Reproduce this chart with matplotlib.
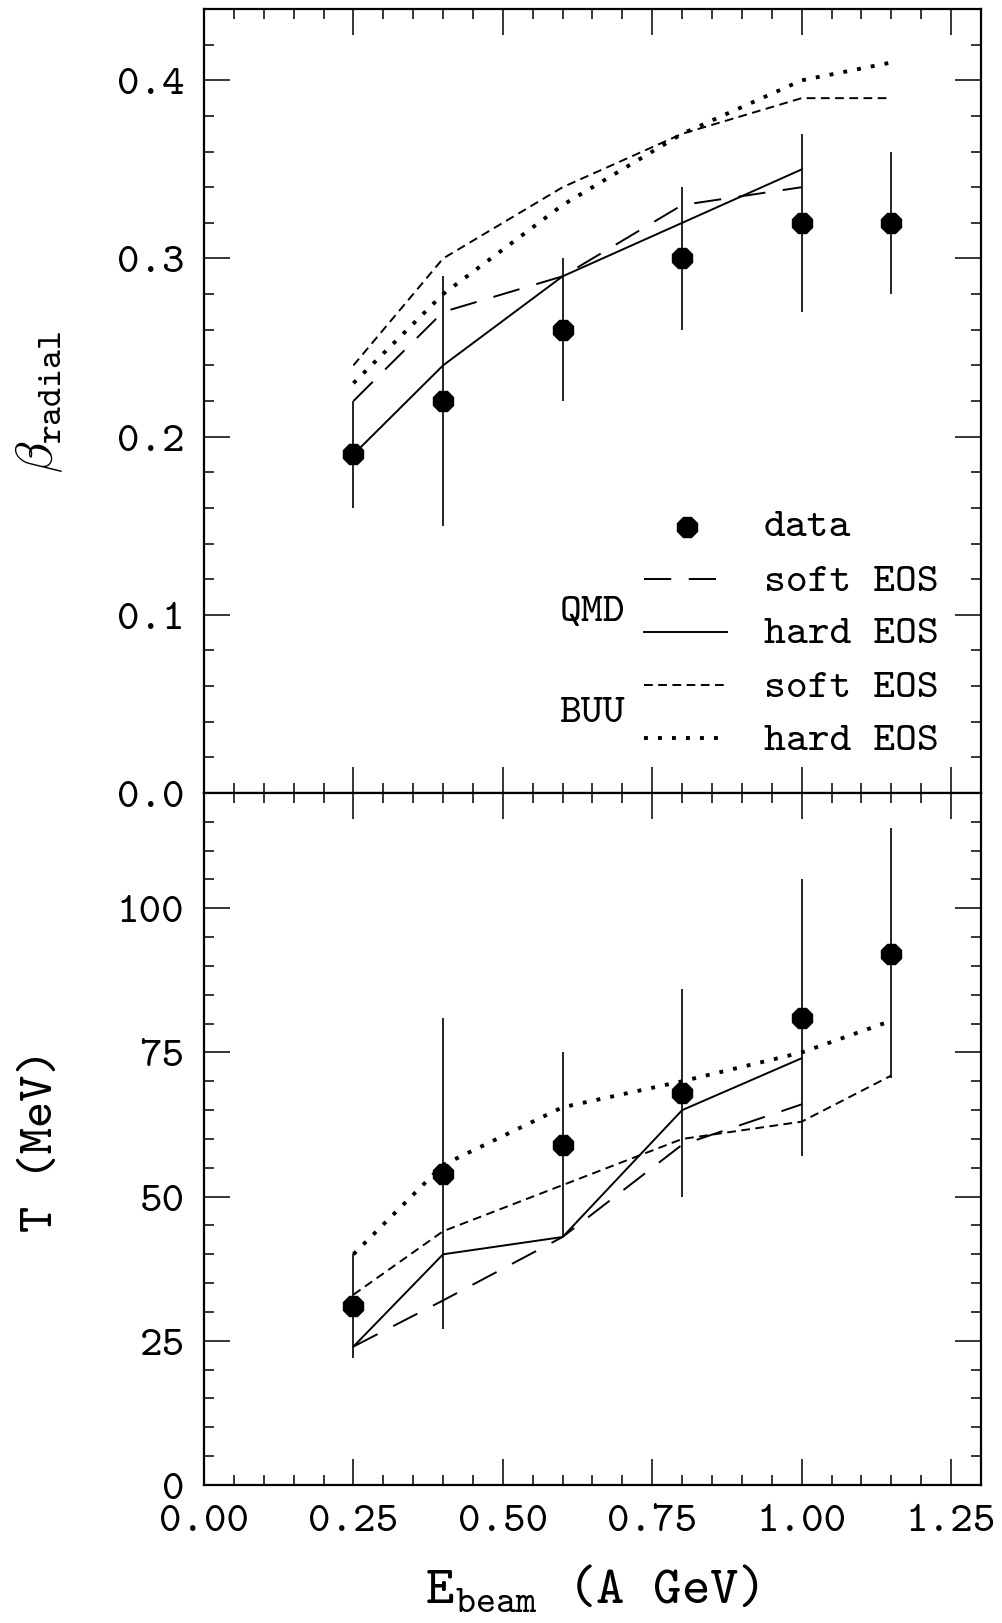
import matplotlib
matplotlib.use("Agg")
import matplotlib.pyplot as plt
from matplotlib.ticker import MultipleLocator, FormatStrFormatter
from matplotlib.lines import Line2D

# ---------------- data ----------------
x_data = [0.25, 0.40, 0.60, 0.80, 1.00, 1.15]
beta_data = [0.19, 0.22, 0.26, 0.30, 0.32, 0.32]
beta_lo = [0.16, 0.15, 0.22, 0.26, 0.27, 0.28]
beta_hi = [0.22, 0.29, 0.30, 0.34, 0.37, 0.36]
T_data = [31, 54, 59, 68, 81, 92]
T_lo = [22, 27, 43, 50, 57, 70.5]
T_hi = [40, 81, 75, 86, 105, 114]

x_qmd = [0.25, 0.40, 0.60, 0.80, 1.00]
beta_qmd_soft = [0.22, 0.27, 0.29, 0.33, 0.34]
beta_qmd_hard = [0.19, 0.24, 0.29, 0.32, 0.35]
T_qmd_soft = [24, 32, 43, 59, 66]
T_qmd_hard = [24, 40, 43, 65, 74]

x_buu = [0.25, 0.40, 0.60, 0.80, 1.00, 1.15]
beta_buu_soft = [0.24, 0.30, 0.34, 0.37, 0.39, 0.39]
beta_buu_hard = [0.23, 0.28, 0.33, 0.37, 0.40, 0.41]
T_buu_soft = [33, 44, 52, 60, 63, 71]
T_buu_hard = [40, 55.5, 65.5, 70, 75, 80.5]

legend_labels = ["data", "soft EOS", "hard EOS", "soft EOS", "hard EOS"]
group_labels = ["QMD", "BUU"]

# ---------------- style ----------------
plt.rcParams["font.family"] = ["cmtt10", "DejaVu Sans"]
plt.rcParams["mathtext.fontset"] = "cm"
plt.rcParams["axes.unicode_minus"] = False
plt.rcParams["axes.formatter.use_mathtext"] = False

LW = 1.4
sty_qmd_soft = dict(color="black", lw=LW, linestyle=(0, (14, 9)))
sty_qmd_hard = dict(color="black", lw=LW, linestyle="-")
sty_buu_soft = dict(color="black", lw=LW, linestyle=(0, (4.5, 2.8)))
sty_buu_hard = dict(color="black", lw=2.8, linestyle=(0, (1.0, 2.6)))

fig = plt.figure(figsize=(10.02, 16.24), dpi=100)
left, right = 0.2036, 0.9790
bot, mid, top = 0.0850, 0.5111, 0.9938
ax1 = fig.add_axes([left, mid, right - left, top - mid])
ax2 = fig.add_axes([left, bot, right - left, mid - bot], sharex=ax1)

def draw(ax, yd, ylo, yhi, qs, qh, bs, bh):
    ax.plot(x_qmd, qs, **sty_qmd_soft)
    ax.plot(x_qmd, qh, **sty_qmd_hard)
    ax.plot(x_buu, bs, **sty_buu_soft)
    ax.plot(x_buu, bh, **sty_buu_hard)
    err = [[y - l for y, l in zip(yd, ylo)], [h - y for y, h in zip(yd, yhi)]]
    ax.errorbar(x_data, yd, yerr=err, fmt="8", color="black", ms=16,
                elinewidth=1.2, capsize=0, zorder=5)

draw(ax1, beta_data, beta_lo, beta_hi, beta_qmd_soft, beta_qmd_hard,
     beta_buu_soft, beta_buu_hard)
draw(ax2, T_data, T_lo, T_hi, T_qmd_soft, T_qmd_hard, T_buu_soft, T_buu_hard)

ax1.set_xlim(0.0, 1.30)
ax1.set_ylim(0.0, 0.44)
ax2.set_ylim(0, 120)

for ax in (ax1, ax2):
    for s in ax.spines.values():
        s.set_linewidth(1.6)
    ax.xaxis.set_major_locator(MultipleLocator(0.25))
    ax.xaxis.set_minor_locator(MultipleLocator(0.05))
    ax.tick_params(which="both", direction="in", top=True, right=True,
                   width=1.1, labelsize=31, pad=14)
    ax.tick_params(which="major", length=19)
    ax.tick_params(which="minor", length=7)

ax1.yaxis.set_major_locator(MultipleLocator(0.1))
ax1.yaxis.set_minor_locator(MultipleLocator(0.02))
ax1.yaxis.set_major_formatter(FormatStrFormatter("%.1f"))
ax1.tick_params(labelbottom=False)

ax2.yaxis.set_major_locator(MultipleLocator(25))
ax2.yaxis.set_minor_locator(MultipleLocator(5))
ax2.yaxis.set_major_formatter(FormatStrFormatter("%d"))
ax2.xaxis.set_major_formatter(FormatStrFormatter("%.2f"))

ax1.set_ylabel(r"$\beta_{\mathtt{radial}}$", fontsize=37)
ax2.set_ylabel("T (MeV)", fontsize=36)
ax2.set_xlabel(r"$\mathtt{E}_{\mathtt{beam}}$ (A GeV)", fontsize=39)
ax1.yaxis.set_label_coords(-0.178, 0.5)
ax2.yaxis.set_label_coords(-0.181, 0.5)
ax2.xaxis.set_label_coords(0.5, -0.112)

# ---------------- legend (manual) ----------------
tx = 0.7207
hx0, hx1 = 0.5663, 0.673
text_y = [0.3397, 0.2695, 0.2031, 0.1341, 0.0664]
line_y = [0.2733, 0.2056, 0.1379, 0.0702]
styles = [sty_qmd_soft, sty_qmd_hard, sty_buu_soft, sty_buu_hard]
ax1.add_line(Line2D([0.6216], [text_y[0]], marker="8", ms=16, color="black",
                    linestyle="none", transform=ax1.transAxes))
for yy, st in zip(line_y, styles):
    ax1.add_line(Line2D([hx0, hx1], [yy, yy], transform=ax1.transAxes, **st))
for lab, yy in zip(legend_labels, text_y):
    ax1.text(tx, yy, lab, transform=ax1.transAxes, fontsize=30,
             ha="left", va="center")
ax1.text(0.4994, 0.2312, group_labels[0], transform=ax1.transAxes,
         fontsize=30, ha="center", va="center")
ax1.text(0.4994, 0.1022, group_labels[1], transform=ax1.transAxes,
         fontsize=30, ha="center", va="center")

fig.savefig("out.png", dpi=100)
